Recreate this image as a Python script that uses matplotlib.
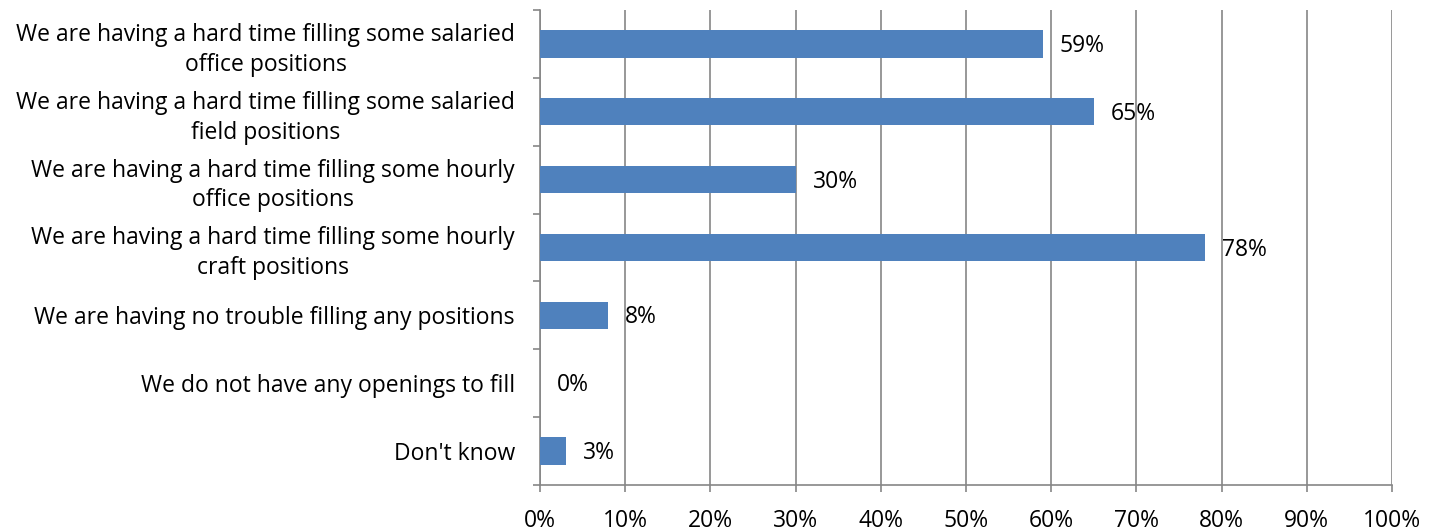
import matplotlib.pyplot as plt
import numpy as np

categories = [
    "We are having a hard time filling some salaried\noffice positions",
    "We are having a hard time filling some salaried\nfield positions",
    "We are having a hard time filling some hourly\noffice positions",
    "We are having a hard time filling some hourly\ncraft positions",
    "We are having no trouble filling any positions",
    "We do not have any openings to fill",
    "Don't know",
]
values = [59, 65, 30, 78, 8, 0, 3]
x_ticks = list(range(0, 101, 10))
x_tick_labels = [f"{t}%" for t in x_ticks]

plt.rcParams['font.family'] = ['Open Sans', 'DejaVu Sans']
FS = 16.5

fig = plt.figure(figsize=(14.39, 5.31), dpi=100)
ax = fig.add_axes([540 / 1439, 1 - 485 / 531, (1392 - 540) / 1439, (485 - 10) / 531])

n = len(categories)
ypos = np.arange(n)
ax.barh(ypos, values, height=0.4, color='#4F81BD', zorder=3)

for y, v in zip(ypos, values):
    ax.text(v + 2, y + 0.03, f"{v}%", va='center', ha='left', fontsize=FS, color='black')

ax.set_xlim(0, 100)
ax.set_ylim(n - 0.5, -0.5)

ax.set_xticks(x_ticks)
ax.set_xticklabels(x_tick_labels, fontsize=FS)
ax.set_yticks(ypos)
ax.set_yticklabels(categories, fontsize=FS)
for lbl in ax.get_yticklabels():
    lbl.set_multialignment('center')
    lbl.set_linespacing(1.32)

ax.set_yticks(np.arange(-0.5, n, 1), minor=True)
ax.tick_params(axis='y', which='major', length=0, pad=18)
ax.tick_params(axis='y', which='minor', length=5, color='#868686', width=1.2)
ax.tick_params(axis='x', which='major', length=5, color='#868686', width=1.2, pad=12)

ax.xaxis.grid(True, color='#868686', linewidth=1.2, zorder=0)
ax.set_axisbelow(True)

for side in ('top', 'right'):
    ax.spines[side].set_visible(False)
for side in ('left', 'bottom'):
    ax.spines[side].set_color('#868686')
    ax.spines[side].set_linewidth(1.2)

fig.savefig('out.png', dpi=100)
